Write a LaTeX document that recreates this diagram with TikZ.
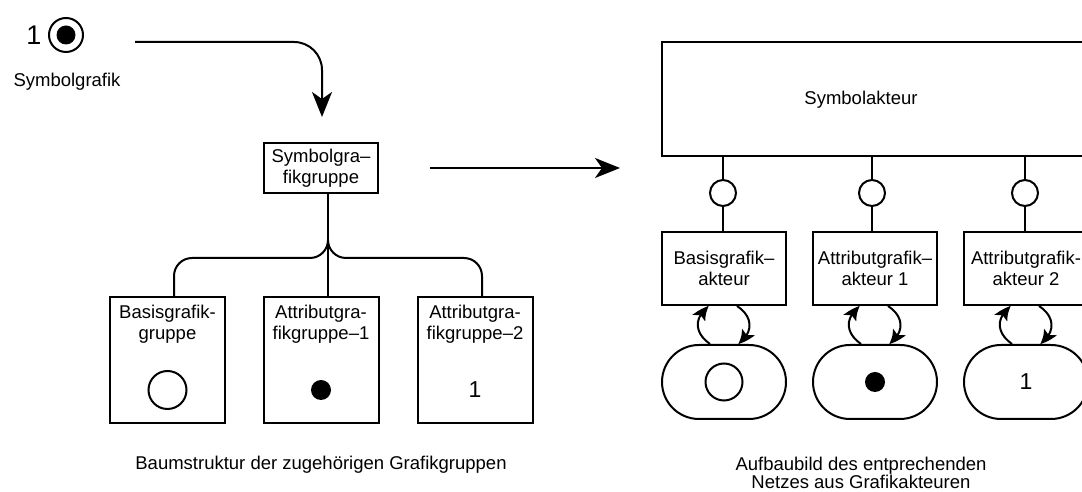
\documentclass[tikz,border=0pt]{standalone}
\usepackage{fontspec}
\setmainfont{Liberation Sans}
\usetikzlibrary{arrows.meta,bending}
\begin{document}
\begin{tikzpicture}[x=1pt,y=1pt,
  every node/.style={font=\fontsize{18.5}{21}\selectfont, inner sep=0pt, align=center},
  numeral/.style={font=\fontsize{23}{23}\selectfont},
  line/.style={line width=2pt},
  box/.style={draw, line width=2pt},
  ring/.style={circle, draw, line width=2pt},
  dot/.style={circle, fill=black},
  oval/.style={draw, line width=2pt, rounded corners=37pt, minimum width=124pt, minimum height=74pt},
  bigtip/.style={-{Stealth[length=25pt,width=20pt,inset=7pt]}},
  looptip/.style={line width=2pt, -{Stealth[length=17pt,width=14pt,inset=4pt,bend]}}
]
\useasboundingbox (0,0) rectangle (1082,492);
\clip (0,0) rectangle (1082,492);

% ---- symbol graphic ----
\node[font=\fontsize{27}{27}\selectfont] (one) at (34,457) {1};
\node[ring, minimum size=34pt] (sym) at (66,457) {};
\node[dot, minimum size=19pt] (symdot) at (sym.center) {};
\node (symlbl) at (67,410) {Symbolgrafik};

\coordinate (a1s) at (135,450);
\coordinate (a1e) at (322,375);
\draw[line, bigtip, rounded corners=28pt] (a1s) -| (a1e);

% ---- tree of graphic groups ----
\node[box, minimum width=114pt, minimum height=50pt] (grp) at (321,324) {Symbolgra–\\fikgruppe};

\node[box, minimum width=115pt, minimum height=126pt] (bg)  at (167.5,132) {};
\node[box, minimum width=115pt, minimum height=126pt] (ag1) at (321,132) {};
\node[box, minimum width=115pt, minimum height=126pt] (ag2) at (475,132) {};

\node[anchor=north] (bgt)  at ([yshift=-9pt]bg.north)  {Basisgrafik-\\gruppe};
\node[anchor=north] (ag1t) at ([yshift=-9pt]ag1.north) {Attributgra-\\fikgruppe–1};
\node[anchor=north] (ag2t) at ([yshift=-9pt]ag2.north) {Attributgra-\\fikgruppe–2};

\node[ring, minimum size=38pt] (bgc) at (167.5,102) {};
\node[dot, minimum size=20pt] (ag1d) at (321,102) {};
\node[numeral] (ag2n) at (475,102) {1};

\coordinate (fork) at (328,252);
\coordinate (lb) at (174,234);
\coordinate (rb) at (482,234);
\draw[line] ([xshift=7pt]grp.south) -- ([xshift=7pt]ag1.north);
\draw[line, rounded corners=18pt] (fork) |- (lb) -- ([xshift=6.5pt]bg.north);
\draw[line, rounded corners=18pt] (fork) |- (rb) -- ([xshift=7pt]ag2.north);

\node (cap1) at (321,27) {Baumstruktur der zugehörigen Grafikgruppen};

\coordinate (a2s) at (430,324);
\coordinate (a2e) at (620,324);
\draw[line, bigtip] (a2s) -- (a2e);

% ---- network of graphic actors ----
\node[box, minimum width=450pt, minimum height=114pt, anchor=north west] (sa) at (661,451) {};
\node (satxt) at (861,392) {Symbolakteur};

\node[box, minimum width=124pt, minimum height=73pt] (ak1) at (724,223.5) {Basisgrafik–\\akteur};
\node[box, minimum width=124pt, minimum height=73pt] (ak2) at (875,223.5) {Attributgrafik–\\akteur 1};
\node[box, minimum width=124pt, minimum height=73pt] (ak3) at (1026,223.5) {Attributgrafik-\\akteur 2};

\node[ring, minimum size=26pt] (i1) at (723,299) {};
\node[ring, minimum size=26pt] (i2) at (872,299) {};
\node[ring, minimum size=26pt] (i3) at (1025,299) {};
\foreach \i in {1,2,3} {
  \draw[line] (i\i) -- (i\i |- sa.south);
  \draw[line] (i\i) -- (i\i |- ak\i.north);
}

\node[oval] (ov1) at (724,110) {};
\node[oval] (ov2) at (875,110) {};
\node[oval] (ov3) at (1026,110) {};
\node[ring, minimum size=37pt] (ov1c) at (ov1.center) {};
\node[dot, minimum size=20pt] (ov2d) at (ov2.center) {};
\node[numeral] (ov3n) at (ov3.center) {1};

% exchange loops between each actor and its graphic
\foreach \i in {1,2,3} {
  \draw[looptip] ([xshift=-14pt]ov\i.north) to[out=145, in=217, looseness=1.3] ([xshift=-15pt]ak\i.south);
  \draw[looptip] ([xshift=13pt]ak\i.south) to[out=-33, in=35, looseness=1.3] ([xshift=14pt]ov\i.north);
}

\node[font=\fontsize{18.5}{18}\selectfont] (cap2) at (861,19) {Aufbaubild des entprechenden\\Netzes aus Grafikakteuren};
\end{tikzpicture}
\end{document}
